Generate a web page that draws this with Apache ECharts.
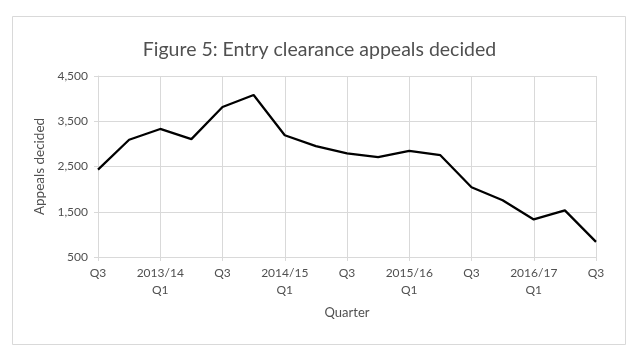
<!DOCTYPE html>
<html>
<head>
<meta charset="utf-8">
<script src="https://cdn.jsdelivr.net/npm/echarts@6/dist/echarts.min.js"></script>
<style>
html,body{margin:0;padding:0;background:#fff;}
#chart{width:639px;height:362px;}
</style>
</head>
<body>
<div id="chart"></div>
<script>
var quarters = ["2012/13 Q3","2012/13 Q4","2013/14 Q1","2013/14 Q2","2013/14 Q3","2013/14 Q4",
  "2014/15 Q1","2014/15 Q2","2014/15 Q3","2014/15 Q4","2015/16 Q1","2015/16 Q2","2015/16 Q3",
  "2015/16 Q4","2016/17 Q1","2016/17 Q2","2016/17 Q3"];
var appealsDecided = [2430,3090,3330,3105,3815,4080,3190,2950,2790,2705,2845,2750,2040,1755,1330,1530,835];
var yTicks = {min:500, max:4500, interval:1000};

var textColor = '#505050';
var gridColor = '#d9d9d9';
var fontFamily = 'Lato, "Open Sans", sans-serif';

var chart = echarts.init(document.getElementById('chart'), null, {renderer:'canvas'});
chart.setOption({
  animation:false,
  backgroundColor:'#fff',
  textStyle:{fontFamily:fontFamily},
  graphic:[{
    type:'rect', left:10, top:14, silent:true,
    shape:{x:0,y:0,width:613,height:328},
    style:{fill:'none', stroke:gridColor, lineWidth:1}
  }],
  title:{
    text:'Figure 5: Entry clearance appeals decided',
    left:'center', top:35,
    textStyle:{fontFamily:fontFamily, fontSize:19.5, fontWeight:'normal', color:textColor}
  },
  grid:{left:98, right:43, top:76, bottom:105, containLabel:false},
  xAxis:{
    type:'category',
    data:quarters,
    boundaryGap:false,
    name:'Quarter',
    nameLocation:'middle',
    nameGap:49,
    nameTextStyle:{color:textColor, fontSize:13, fontFamily:fontFamily},
    axisLine:{show:true, lineStyle:{color:gridColor, width:1}},
    axisTick:{show:true, interval:1, length:4, lineStyle:{color:gridColor}},
    splitLine:{show:true, interval:1, lineStyle:{color:gridColor, width:1}},
    axisLabel:{
      interval:1, color:textColor, fontSize:12, margin:8, lineHeight:17,
      formatter:function(v){
        var p = v.split(' ');
        return p[1]==='Q1' ? p[0]+'\n'+p[1] : p[1];
      }
    }
  },
  yAxis:{
    type:'value',
    min:yTicks.min, max:yTicks.max, interval:yTicks.interval,
    name:'Appeals decided',
    nameLocation:'middle',
    nameGap:47,
    nameTextStyle:{color:textColor, fontSize:13.5, fontFamily:fontFamily},
    axisLine:{show:true, lineStyle:{color:gridColor, width:1}},
    axisTick:{show:true, length:4, lineStyle:{color:gridColor}},
    splitLine:{show:true, lineStyle:{color:gridColor, width:1}},
    axisLabel:{
      color:textColor, fontSize:12, margin:10,
      formatter:function(v){ return v.toLocaleString('en-US'); }
    }
  },
  series:[{
    type:'line',
    data:appealsDecided,
    showSymbol:false,
    symbol:'none',
    lineStyle:{color:'#000', width:2.25},
    itemStyle:{color:'#000'}
  }]
});
</script>
</body>
</html>
